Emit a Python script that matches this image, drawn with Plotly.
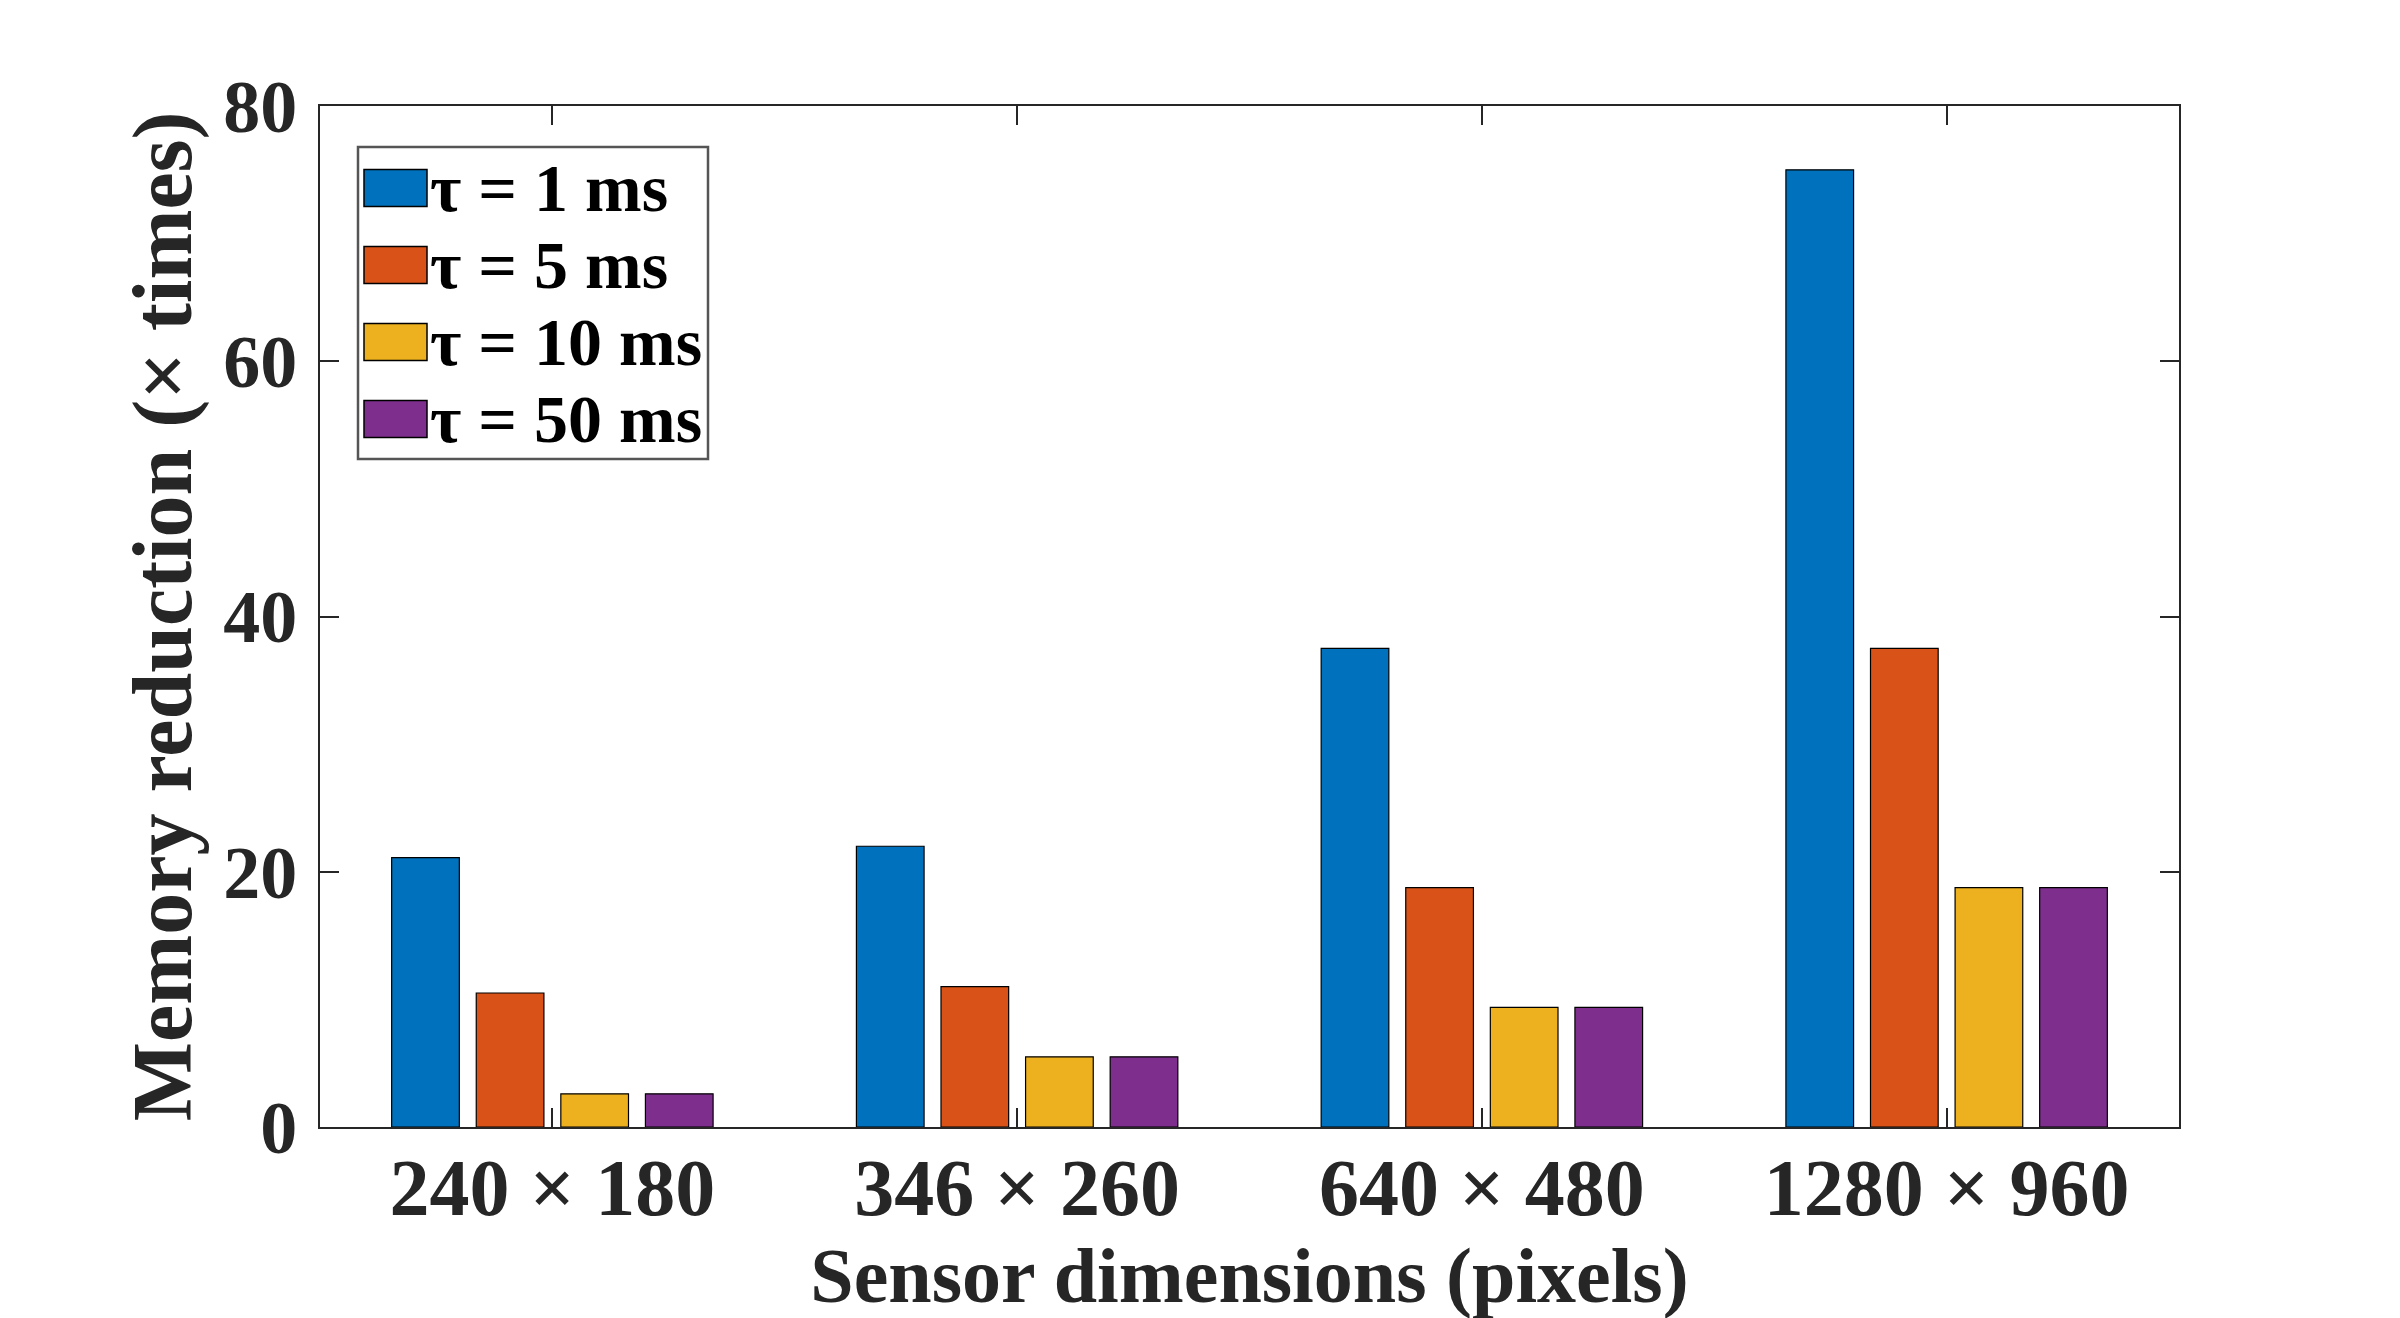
import plotly.graph_objects as go

# data
sensor_sizes = ["240 × 180", "346 × 260", "640 × 480", "1280 × 960"]
series_names = ["τ = 1 ms", "τ = 5 ms", "τ = 10 ms", "τ = 50 ms"]
tau_1ms = [21.1, 22.0, 37.5, 75.0]
tau_5ms = [10.5, 11.0, 18.75, 37.5]
tau_10ms = [2.6, 5.5, 9.375, 18.75]
tau_50ms = [2.6, 5.5, 9.375, 18.75]
y_ticks = [0, 20, 40, 60, 80]

series_values = [tau_1ms, tau_5ms, tau_10ms, tau_50ms]
colors = ["#0072BD", "#D95319", "#EDB120", "#7E2F8E"]

W, H = 2400, 1318
plot_left, plot_right, plot_top, plot_bottom = 312, 2171, 98, 1119
axis_color = "#262626"
font_family = "Liberation Serif"

fig = go.Figure()
for name, vals, col in zip(series_names, series_values, colors):
    fig.add_trace(go.Bar(
        x=sensor_sizes, y=vals, name=name,
        marker=dict(color=col, line=dict(color="black", width=1.2)),
        showlegend=False,
    ))


def px_to_paper(px, py):
    return ((px - plot_left) / (plot_right - plot_left),
            (plot_bottom - py) / (plot_bottom - plot_top))


# hand-built legend so the swatches can be as large as in the reference
shapes = []
annotations = []
bx0, by0 = px_to_paper(350, 139)
bx1, by1 = px_to_paper(700, 451)
shapes.append(dict(type="rect", xref="paper", yref="paper", x0=bx0, y0=by1, x1=bx1, y1=by0,
                   line=dict(color="#555555", width=2.5), fillcolor="white", layer="above"))
for i, (name, col) in enumerate(zip(series_names, colors)):
    cy = 180 + 77 * i
    sx0, sy0 = px_to_paper(356, cy - 18.5)
    sx1, sy1 = px_to_paper(419, cy + 18.5)
    shapes.append(dict(type="rect", xref="paper", yref="paper", x0=sx0, y0=sy1, x1=sx1, y1=sy0,
                       line=dict(color="black", width=1.5), fillcolor=col, layer="above"))
    tx, ty = px_to_paper(420, cy)
    annotations.append(dict(xref="paper", yref="paper", x=tx, y=ty, text=name, showarrow=False,
                            xanchor="left", yanchor="middle",
                            font=dict(family=font_family, size=68, color="black", weight="bold")))

fig.update_layout(
    width=W, height=H,
    margin=dict(l=plot_left, r=W - plot_right, t=plot_top, b=H - plot_bottom, pad=0),
    paper_bgcolor="white", plot_bgcolor="white",
    barmode="group", bargap=0.272, bargroupgap=0.2,
    font=dict(family=font_family, color=axis_color, weight="bold"),
    shapes=shapes, annotations=annotations,
    showlegend=False,
)
fig.update_xaxes(
    showline=True, linecolor=axis_color, linewidth=2, mirror="ticks",
    ticks="inside", ticklen=19, tickwidth=1.5, tickcolor=axis_color,
    tickfont=dict(family=font_family, size=80, color=axis_color, weight="bold"),
    ticklabelstandoff=-10,
    title=dict(text="Sensor dimensions (pixels)", standoff=12,
               font=dict(family=font_family, size=78, color=axis_color, weight="bold")),
    showgrid=False,
)
fig.update_yaxes(
    range=[0, 80], tickvals=y_ticks,
    showline=True, linecolor=axis_color, linewidth=2, mirror="ticks",
    ticks="inside", ticklen=19, tickwidth=1.5, tickcolor=axis_color,
    tickfont=dict(family=font_family, size=74, color=axis_color, weight="bold"),
    ticklabelstandoff=6,
    title=dict(text="Memory reduction (× times)", standoff=4,
               font=dict(family=font_family, size=84, color=axis_color, weight="bold")),
    showgrid=False, zeroline=False,
)

fig.write_html("out.html")
